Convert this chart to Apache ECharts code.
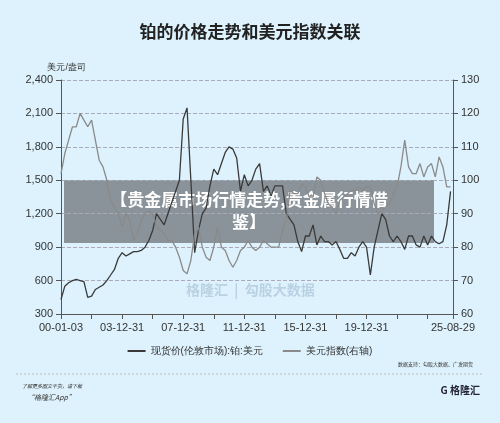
<!DOCTYPE html><html><head><meta charset="utf-8">
<script src="https://cdn.jsdelivr.net/npm/echarts@6/dist/echarts.min.js"></script>
<style>html,body{margin:0;background:#ddf2fc}#c{width:500px;height:423px}</style></head><body><div id="c"></div><script>
const startYear=2000, step=0.25;
const platinum=[430,550,580,600, 610,600,590,450, 460,520,540,560, 600,650,700,800, 850,820,840,860, 860,870,900,960, 1050,1200,1150,1100, 1200,1300,1400,1500, 2050,2150,1500,850, 1050,1200,1250,1450, 1600,1550,1650,1750, 1800,1780,1700,1400, 1550,1450,1500,1600, 1650,1400,1450,1360, 1450,1450,1450,1200, 1150,1100,950,860, 1000,1000,1100,920, 1000,950,950,920, 950,880,800,800, 850,820,900,950, 900,650,900,1050, 1200,1150,1000,950, 1000,950,880,1000, 1000,920,900,1000, 920,1000,950,930, 950,1100,1400];
const dxy=[102,108,112,116, 116,120,118,116, 118,112,106,104, 100,94,92,90, 86,90,88,82, 84,88,90,91, 90,86,85,84, 82,82,80,77, 73,72,76,84, 86,80,77,76, 80,86,80,79, 76,74,76,79, 80,82,80,79, 80,82,81,80, 80,80,85,88, 97,96,96,99, 98,95,95,101, 100,96,93,92, 90,94,95,96, 97,97,98,97, 98,98,93,90, 91,92,93,96, 98,104,112,104, 102,102,105,101, 104,105,101,107, 104,98,98];
const tickLabels={2000:'00-01-03',2004:'03-12-31',2008:'07-12-31',2012:'11-12-31',2016:'15-12-31',2020:'19-12-31'};
const endYear=2025.66, endLabel='25-08-29';
const years=platinum.map((_,i)=>startYear+i*step);
const ch=echarts.init(document.getElementById('c'));
const axLab={color:'#333',fontSize:11,fontFamily:'Liberation Sans'};
ch.setOption({backgroundColor:'#ddf2fc',animation:false,
title:{text:'铂的价格走势和美元指数关联',left:'center',top:18,textStyle:{fontSize:17,fontWeight:'bold',color:'#222',fontFamily:'Noto Sans CJK SC'}},
grid:{left:61,right:47,top:80,bottom:109},
legend:{bottom:62,itemWidth:18,itemHeight:2,icon:'rect',textStyle:{fontSize:10,color:'#333'},itemGap:20},
xAxis:{type:'value',min:2000,max:endYear,interval:2,axisLine:{lineStyle:{color:'#555'}},axisTick:{lineStyle:{color:'#555'}},splitLine:{show:false},
 axisLabel:Object.assign({},axLab,{showMaxLabel:true,formatter:v=>Math.abs(v-endYear)<0.01?endLabel:(tickLabels[Math.round(v)]&&Math.abs(v-Math.round(v))<0.01?tickLabels[Math.round(v)]:'')})},
yAxis:[{type:'value',min:300,max:2400,interval:300,name:'美元/盎司',nameGap:8,nameTextStyle:{fontSize:9,color:'#333',align:'right',padding:[0,-25,0,0]},axisLine:{show:true,lineStyle:{color:'#555'}},axisTick:{show:true},axisLabel:Object.assign({},axLab,{formatter:v=>v.toLocaleString('en-US')}),splitLine:{lineStyle:{type:'dashed',color:'#aab'}}},
{type:'value',min:60,max:130,interval:10,axisLine:{show:true,lineStyle:{color:'#555'}},axisTick:{show:true},axisLabel:axLab,splitLine:{show:false}}],
series:[{name:'现货价(伦敦市场):铂:美元',type:'line',symbol:'none',data:years.map((y,i)=>[y,platinum[i]]),lineStyle:{color:'#3a3a3a',width:1.3},itemStyle:{color:'#3a3a3a'}},
{name:'美元指数(右轴)',type:'line',yAxisIndex:1,symbol:'none',data:years.slice(0,dxy.length).map((y,i)=>[y,dxy[i]]),lineStyle:{color:'#8a8a8a',width:1.3},itemStyle:{color:'#8a8a8a'}}],
graphic:[
{type:'text',left:186,top:283,style:{text:'格隆汇  |  勾股大数据',fill:'rgba(120,150,180,0.35)',font:'bold 14px Noto Sans CJK SC'}},
{type:'rect',shape:{x:64,y:180,width:370,height:63},style:{fill:'rgba(110,115,120,0.75)'}},
{type:'text',x:249,y:211,style:{text:'【贵金属市场行情走势,贵金属行情借\n鉴】',fill:'#fff',font:'bold 17px Noto Sans CJK SC',align:'center',verticalAlign:'middle',lineHeight:22}},
{type:'text',right:27,top:362,style:{text:'数据支持：勾股大数据、广发期货',fill:'#333',font:'5px Noto Sans CJK SC'}},
{type:'line',shape:{x1:16,y1:374,x2:482,y2:374},style:{stroke:'#bbb',lineDash:[2,2]}},
{type:'text',left:22,top:384,style:{text:'了解更多图文干货，请下载',fill:'#333',font:'italic 5px Noto Sans CJK SC'}},
{type:'text',left:27,top:394,style:{text:'“格隆汇App”',fill:'#333',font:'italic 7px Noto Sans CJK SC'}},
{type:'text',right:20,top:385,style:{text:'G 格隆汇',fill:'#223',font:'bold 10px Noto Sans CJK SC'}}
]});
</script></body></html>
